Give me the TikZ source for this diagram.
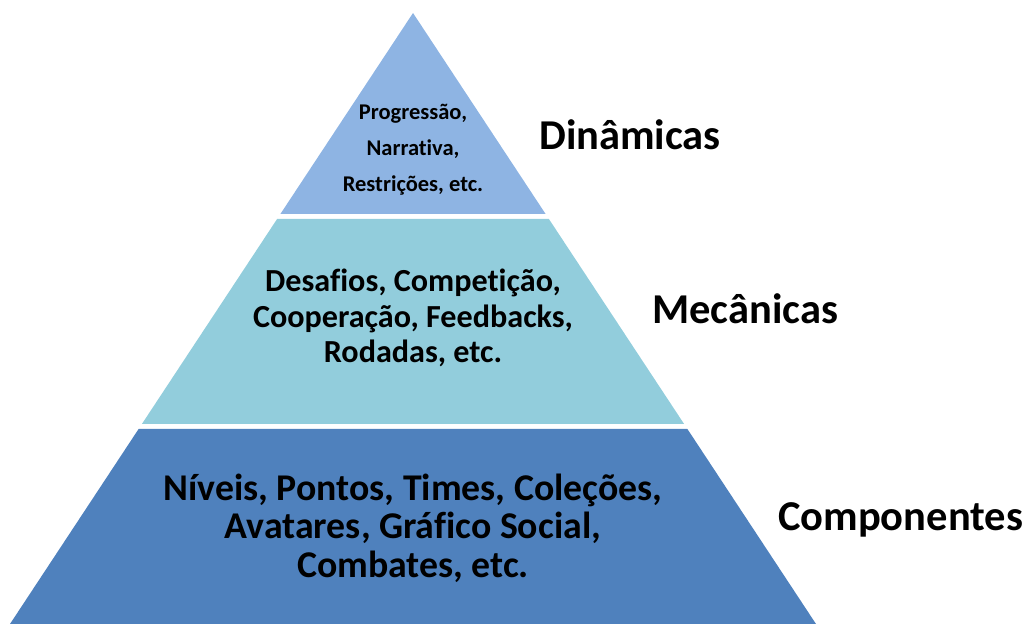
\documentclass[tikz,border=0pt]{standalone}
\usepackage{fontspec}
\setmainfont{Carlito}[Ligatures=NoCommon]
\definecolor{dinblue}{RGB}{142,180,227}
\definecolor{mecblue}{RGB}{146,205,220}
\definecolor{comblue}{RGB}{79,129,189}
\tikzset{
  layertext/.style={font=\bfseries, align=center, text=black},
  layername/.style={font=\bfseries\fontsize{24.2}{28}\selectfont, anchor=west},
}
\begin{document}
\begin{tikzpicture}[x=0.02cm, y=-0.02cm]
      \useasboundingbox (0,0) rectangle (1027,624);
      % the three layers of the pyramid
      \fill[dinblue] (413,13) -- (545.6,214) -- (280.4,214) -- cycle;
      \fill[mecblue] (277.1,219) -- (548.9,219) -- (684.1,424) -- (141.9,424) -- cycle;
      \fill[comblue] (138.6,429) -- (687.4,429) -- (816,624) -- (10,624) -- cycle;
      % texts inside the layers
      \node[layertext, font=\bfseries\fontsize{12.8}{20.5}\selectfont] (din) at (413,150)
        {Progressão,\\Narrativa,\\Restrições, etc.};
      \node[layertext, font=\bfseries\fontsize{18.3}{20.4}\selectfont] (mec) at (413,318)
        {Desafios, Competição,\\Cooperação, Feedbacks,\\Rodadas, etc.};
      \node[layertext, font=\bfseries\fontsize{21.5}{21.9}\selectfont] (com) at (413,528)
        {Níveis, Pontos, Times, Coleções,\\Avatares, Gráfico Social,\\Combates, etc.};
      % names of the layers
      \node[layername] (dinname) at (533,135) {Dinâmicas};
      \node[layername] (mecname) at (646,309) {Mecânicas};
      \node[layername] (comname) at (772,520) {Componentes};
\end{tikzpicture}
\end{document}
